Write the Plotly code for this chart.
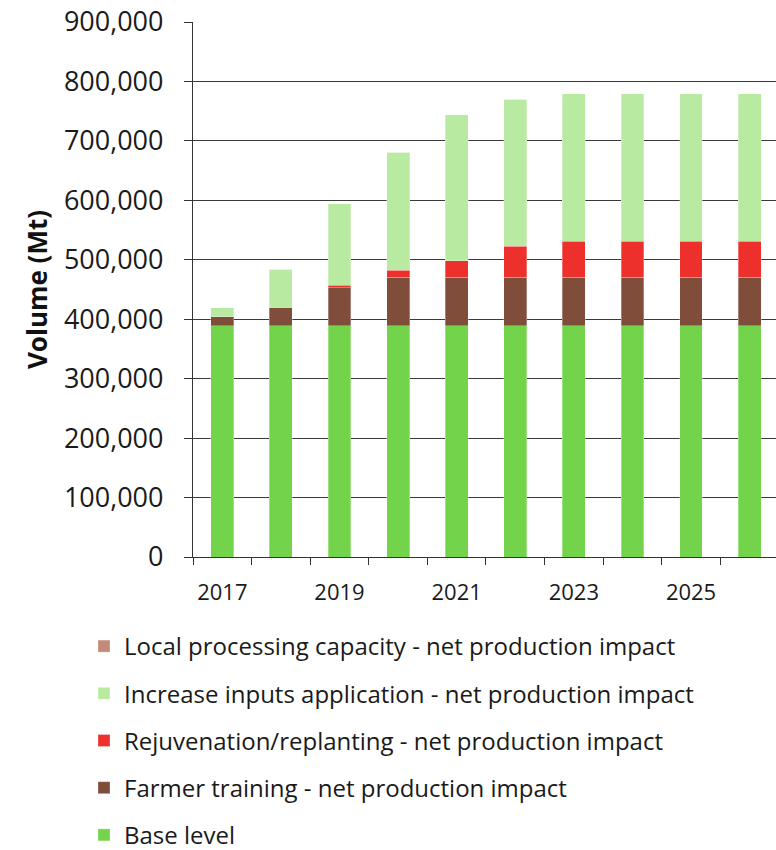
import plotly.graph_objects as go

# Production volume by year, stacked by intervention
years = [2017, 2018, 2019, 2020, 2021, 2022, 2023, 2024, 2025, 2026]
base_level = [389000] * 10
farmer_training = [15000, 31000, 64000, 82000, 82000, 82000, 82000, 82000, 82000, 82000]
rejuvenation = [0, 0, 4000, 11000, 27000, 52000, 60000, 60000, 60000, 60000]
inputs_application = [15000, 64000, 137000, 199000, 246000, 247000, 248000, 248000, 248000, 248000]
local_processing = [0] * 10

series = [
    ("Base level", base_level, "#73D44B"),
    ("Farmer training - net production impact", farmer_training, "#7F4D3A"),
    ("Rejuvenation/replanting - net production impact", rejuvenation, "#EE302C"),
    ("Increase inputs application - net production impact", inputs_application, "#B8EAA2"),
    ("Local processing capacity - net production impact", local_processing, "#C28A78"),
]

y_ticks = [0, 100000, 200000, 300000, 400000, 500000, 600000, 700000, 800000, 900000]
x_labels = [2017, 2019, 2021, 2023, 2025]

FONT = "Open Sans"
PLOT_L, PLOT_R, PLOT_T, PLOT_B = 193, 776, 22, 557

fig = go.Figure()
n = len(series)
for i, (name, vals, color) in enumerate(series):
    fig.add_trace(go.Bar(
        x=years, y=vals, name=name, legendgroup=f"g{i}", legendrank=n - i,
        marker=dict(color=color, line=dict(color="rgba(255,255,255,0.5)", width=0.6)),
    ))

plot_w = PLOT_R - PLOT_L
plot_h = PLOT_B - PLOT_T

fig.update_layout(
    width=776, height=850,
    barmode="stack", bargap=0.61,
    plot_bgcolor="white", paper_bgcolor="white",
    margin=dict(l=PLOT_L, r=776 - PLOT_R, t=PLOT_T, b=850 - PLOT_B, autoexpand=False),
    font=dict(family=FONT, color="#1a1a1a", size=24),
    showlegend=True,
    legend=dict(
        x=(84 - PLOT_L) / plot_w, y=(PLOT_B - 624) / plot_h,
        xanchor="left", yanchor="top",
        traceorder="grouped", tracegroupgap=13,
        font=dict(family=FONT, size=24, color="#1a1a1a"),
        bgcolor="rgba(0,0,0,0)",
    ),
)

fig.update_xaxes(
    range=[2016.5, 2026.45],
    tickmode="array", tickvals=x_labels, ticktext=[str(v) for v in x_labels],
    ticks="", showgrid=False, zeroline=False,
    showline=True, linecolor="#333333", linewidth=1.2,
    tickfont=dict(family=FONT, size=22, color="#1a1a1a"),
    ticklabelstandoff=15, tickangle=0,
    minor=dict(tickvals=[y + 0.5 for y in range(2016, 2026)], ticks="outside",
               ticklen=7, tickcolor="#333333", tickwidth=1.2, showgrid=False),
)

fig.update_yaxes(
    range=[0, 900000],
    tickmode="array", tickvals=y_ticks,
    ticktext=[f"{v:,}" for v in y_ticks],
    ticks="outside", ticklen=8, tickcolor="#333333", tickwidth=1.2,
    showgrid=True, gridcolor="#3a3a3a", gridwidth=1.2,
    zeroline=False,
    showline=True, linecolor="#333333", linewidth=1.2,
    tickfont=dict(family=FONT, size=27, color="#1a1a1a"),
    ticklabelstandoff=15,
    title=dict(text="<b>Volume (Mt)</b>", font=dict(family=FONT, size=26, color="#111111"), standoff=8),
)

fig.write_html("out.html")
